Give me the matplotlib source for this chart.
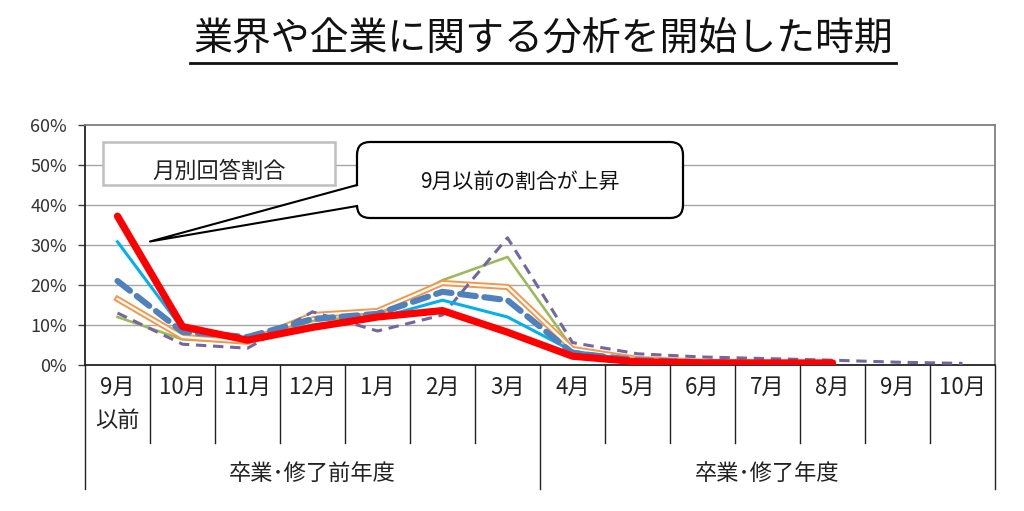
import numpy as np
import matplotlib as mpl
mpl.use('Agg')
import matplotlib.pyplot as plt
import matplotlib.transforms as mtransforms
from matplotlib.patches import FancyBboxPatch, Polygon, Rectangle

plt.rcParams['font.family'] = ['Noto Sans CJK JP', 'DejaVu Sans']

W, H = 1024, 511

# data (percent)
months = ['9月\n以前', '10月', '11月', '12月', '1月', '2月', '3月',
          '4月', '5月', '6月', '7月', '8月', '9月', '10月']
groups = ['卒業･修了前年度', '卒業･修了年度']
nan = np.nan
purple_dash = [13.0, 5.2, 4.2, 13.3, 8.5, 12.5, 31.8, 5.6, 2.8, 2.0, 1.6, 1.2, 0.7, 0.4]
green_line = [12.0, 6.4, 5.6, 11.0, 12.5, 21.2, 27.0, 4.2, 1.5, 0.8, 0.6, 0.5, nan, nan]
orange_line = [16.5, 7.0, 5.8, 12.5, 13.5, 20.5, 19.5, 4.0, 1.5, 0.8, 0.6, 0.5, nan, nan]
cyan_line = [30.8, 9.0, 6.0, 10.0, 11.7, 16.2, 12.0, 3.5, 1.0, 0.5, 0.4, 0.3, nan, nan]
blue_dash = [21.0, 8.3, 7.0, 11.5, 12.8, 18.3, 16.2, 3.0, 1.2, 0.7, 0.5, 0.4, nan, nan]
red_line = [37.2, 9.6, 6.2, 9.4, 12.0, 13.6, 8.2, 2.2, 0.8, 0.5, 0.5, 0.5, nan, nan]
yticks = [0, 10, 20, 30, 40, 50, 60]

title = '業界や企業に関する分析を開始した時期'
box_label = '月別回答割合'
callout = '9月以前の割合が上昇'

fig = plt.figure(figsize=(W / 100, H / 100), dpi=100)
fig.patch.set_facecolor('white')
ax = fig.add_axes([85 / W, 1 - 365 / H, 910 / W, 240 / H])

x = np.arange(len(months))

# grid
for v in yticks[1:-1]:
    ax.axhline(v, color='#A6A6A6', lw=1.0, zorder=1)

# series
ax.plot(x, green_line, color='#9BBB59', lw=1.9, zorder=3)
ax.plot(x, orange_line, color='#F79646', lw=4.4, zorder=3)
ax.plot(x, orange_line, color='white', lw=1.6, zorder=3)
ax.plot(x, purple_dash, color='#7466A0', lw=2.2, dashes=(3.4, 2.2), zorder=4)
ax.plot(x, cyan_line, color='#00B0F0', lw=2.2, zorder=4)
ax.plot(x, blue_dash, color='#4F81BD', lw=4.4, dashes=(2.6, 1.4),
        dash_capstyle='round', zorder=5)
ax.plot(x, red_line, color='#FF0000', lw=5.2, zorder=6, solid_capstyle='round')

ax.set_xlim(-0.5, len(months) - 0.5)
ax.set_ylim(0, 60)
ax.set_yticks(yticks)
ax.set_yticklabels([f'{v}%' for v in yticks])
ax.tick_params(axis='y', length=5, width=1, color='#404040', pad=8, labelsize=13,
               labelcolor='#333333')

ax.set_xticks(x)
ax.set_xticklabels(months)
ax.tick_params(axis='x', length=0, pad=8, labelsize=16, labelcolor='#222222')
for lbl in ax.get_xticklabels():
    lbl.set_linespacing(1.55)

for s in ['left', 'bottom']:
    ax.spines[s].set_color('#222222')
    ax.spines[s].set_linewidth(1.3)
for s in ['top', 'right']:
    ax.spines[s].set_color('#7F7F7F')
    ax.spines[s].set_linewidth(1.3)

# category dividers under the axis
tr = ax.get_xaxis_transform()
for b in np.arange(0.5, len(months) - 1, 1.0):
    if b == 6.5:
        continue
    ax.plot([b, b], [0, -0.325], color='#222222', lw=1.0, transform=tr, clip_on=False)
for b in [-0.5, 6.5, len(months) - 0.5]:
    ax.plot([b, b], [0, -0.515], color='#222222', lw=1.0, transform=tr, clip_on=False)
ax.text(3, -0.45, groups[0], transform=tr, ha='center', va='center', fontsize=16,
        color='#222222')
ax.text(10, -0.45, groups[1], transform=tr, ha='center', va='center', fontsize=16,
        color='#222222')

# annotations in pixel coordinates (origin top-left)
px = mtransforms.Affine2D().scale(1, -1).translate(0, H)

fig.text(543 / W, 1 - 40 / H, title, ha='center', va='center', fontsize=28, color='#111111')
fig.add_artist(plt.Line2D([190, 896], [63, 63], transform=px, color='#111111', lw=2.0))

fig.add_artist(Rectangle((103, 142), 232, 43, transform=px, fc='white',
                         ec='#BFBFBF', lw=1.8, zorder=7))
fig.text(219 / W, 1 - 171 / H, box_label, ha='center', va='center', fontsize=16,
         color='#222222', zorder=8)

fig.add_artist(FancyBboxPatch((357, 142), 326, 76, transform=px,
                              boxstyle='round,pad=0,rounding_size=13',
                              fc='white', ec='black', lw=1.6, zorder=9))
fig.add_artist(Polygon([(360, 185.5), (150, 241.5), (360, 205.5)], closed=True,
                       transform=px, fc='white', ec='none', zorder=9))
fig.add_artist(plt.Line2D([357, 150, 357], [185, 241.5, 206], transform=px,
                          color='black', lw=1.5, zorder=10))
fig.text(520 / W, 1 - 182 / H, callout, ha='center', va='center', fontsize=15,
         color='#111111', zorder=11)

fig.savefig('out.png', dpi=100)
